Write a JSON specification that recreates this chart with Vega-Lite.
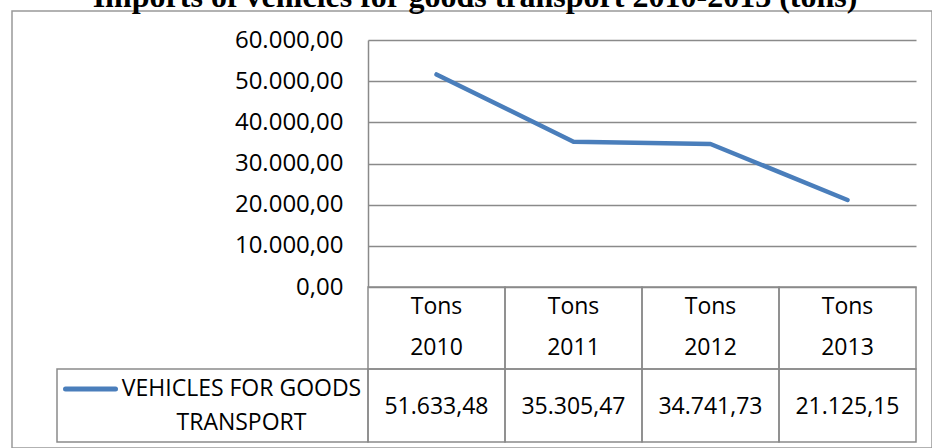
{
  "$schema": "https://vega.github.io/schema/vega-lite/v6.json",
  "width": 920,
  "height": 437,
  "autosize": "none",
  "padding": {"left": 12, "top": 11, "right": 0, "bottom": 0},
  "background": "white",
  "title": {
    "text": "Imports of vehicles for goods transport 2010-2013 (tons)",
    "font": "Liberation Serif",
    "fontWeight": "bold",
    "fontSize": 32,
    "color": "#000000",
    "anchor": "middle",
    "frame": "group",
    "baseline": "alphabetic",
    "offset": -28,
    "dx": 3,
    "zindex": 10
  },
  "config": {
    "view": {"stroke": "#999999", "strokeWidth": 1.5},
    "locale": {"number": {"decimal": ",", "thousands": ".", "grouping": [3], "currency": ["", " €"]}},
    "font": "Open Sans",
    "text": {"font": "Open Sans", "fontSize": 23, "color": "#000000"}
  },
  "datasets": {
    "imports": [
      {"series": "VEHICLES FOR GOODS TRANSPORT", "year": "2010", "value": 51633.48},
      {"series": "VEHICLES FOR GOODS TRANSPORT", "year": "2011", "value": 35305.47},
      {"series": "VEHICLES FOR GOODS TRANSPORT", "year": "2012", "value": 34741.73},
      {"series": "VEHICLES FOR GOODS TRANSPORT", "year": "2013", "value": 21125.15}
    ]
  },
  "data": {"name": "imports"},
  "resolve": {"scale": {"x": "independent", "y": "independent"}},
  "layer": [
    {
      "mark": {"type": "line", "color": "#4A7EBB", "strokeWidth": 4.5, "strokeCap": "round", "strokeJoin": "round"},
      "encoding": {
        "x": {"field": "year", "type": "ordinal", "scale": {"type": "band", "range": [356, 904], "paddingInner": 0, "paddingOuter": 0}, "axis": null},
        "y": {
          "field": "value", "type": "quantitative",
          "scale": {"domain": [0, 60000], "range": [276, 29], "nice": false, "zero": true},
          "axis": {
            "orient": "left", "offset": -356, "values": [0, 10000, 20000, 30000, 40000, 50000, 60000],
            "format": ",.2f", "title": null, "ticks": false, "labelPadding": 25,
            "labelFont": "Open Sans", "labelFontSize": 24, "labelColor": "#000000",
            "domainColor": "#8a8a8a", "domainWidth": 1.5,
            "grid": true, "gridColor": "#8a8a8a", "gridWidth": 1.5, "gridOpacity": 1
          }
        }
      }
    },
    {
      "encoding": {
        "x": {"field": "year", "type": "ordinal", "scale": {"type": "band", "range": [356, 904], "paddingInner": 0, "paddingOuter": 0}, "axis": null},
        "y": {"datum": "header", "type": "nominal", "scale": {"type": "band", "domain": ["header"], "range": [276, 358], "paddingInner": 0, "paddingOuter": 0}, "axis": null}
      },
      "layer": [
        {"mark": {"type": "rect", "fill": null, "stroke": "#8a8a8a", "strokeWidth": 1.5}},
        {"mark": {"type": "text", "baseline": "middle", "align": "center", "dy": -21}, "encoding": {"text": {"value": "Tons"}}},
        {"mark": {"type": "text", "baseline": "middle", "align": "center", "dy": 20}, "encoding": {"text": {"field": "year", "type": "nominal"}}}
      ]
    },
    {
      "encoding": {
        "x": {"field": "year", "type": "ordinal", "scale": {"type": "band", "range": [356, 904], "paddingInner": 0, "paddingOuter": 0}, "axis": null},
        "y": {"datum": "value", "type": "nominal", "scale": {"type": "band", "domain": ["value"], "range": [358, 431], "paddingInner": 0, "paddingOuter": 0}, "axis": null}
      },
      "layer": [
        {"mark": {"type": "rect", "fill": null, "stroke": "#8a8a8a", "strokeWidth": 1.5}},
        {"mark": {"type": "text", "baseline": "middle", "align": "center", "dy": 1.5}, "encoding": {"text": {"field": "value", "type": "quantitative", "format": ",.2f"}}}
      ]
    },
    {
      "transform": [
        {"aggregate": [{"op": "count", "as": "n"}], "groupby": ["series"]},
        {"calculate": "replace(datum.series, 'GOODS ', 'GOODS\\n')", "as": "label"}
      ],
      "encoding": {
        "x": {"field": "series", "type": "nominal", "scale": {"type": "band", "range": [45, 356], "paddingInner": 0, "paddingOuter": 0}, "axis": null},
        "y": {"datum": "value", "type": "nominal", "scale": {"type": "band", "domain": ["value"], "range": [358, 431], "paddingInner": 0, "paddingOuter": 0}, "axis": null}
      },
      "layer": [
        {"mark": {"type": "rect", "fill": null, "stroke": "#8a8a8a", "strokeWidth": 1.5}},
        {"mark": {"type": "text", "baseline": "middle", "align": "center", "dx": 29, "dy": -17, "lineBreak": "\n", "lineHeight": 34}, "encoding": {"text": {"field": "label", "type": "nominal"}}},
        {"mark": {"type": "point", "shape": "stroke", "size": 2500, "filled": false, "stroke": "#4A7EBB", "strokeWidth": 5, "strokeCap": "round", "opacity": 1, "xOffset": -122, "yOffset": -16.5}}
      ]
    }
  ]
}
